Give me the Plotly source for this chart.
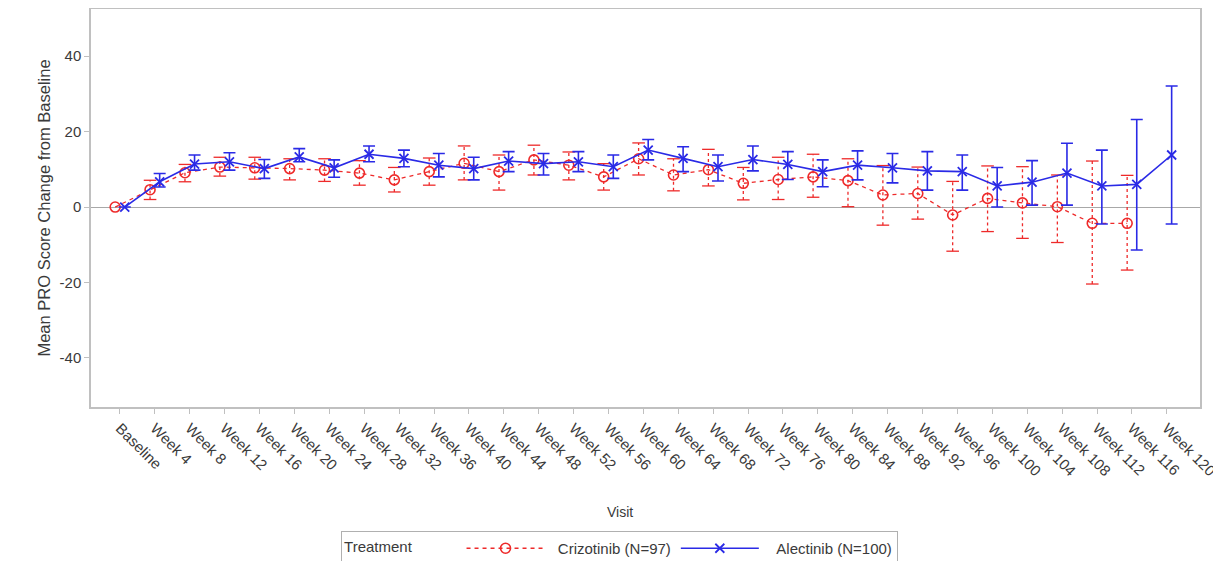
import plotly.graph_objects as go

visits = ["Baseline", "Week 4", "Week 8", "Week 12", "Week 16", "Week 20", "Week 24",
          "Week 28", "Week 32", "Week 36", "Week 40", "Week 44", "Week 48", "Week 52",
          "Week 56", "Week 60", "Week 64", "Week 68", "Week 72", "Week 76", "Week 80",
          "Week 84", "Week 88", "Week 92", "Week 96", "Week 100", "Week 104", "Week 108",
          "Week 112", "Week 116", "Week 120"]

y_ticks = [-40, -20, 0, 20, 40]
y_ticklabels = ["-40", "-20", "0", "20", "40"]

crz_mean = [0.0, 4.6, 9.1, 10.6, 10.4, 10.2, 9.8, 9.0, 7.2, 9.4, 11.6, 9.4, 12.5, 11.1,
            8.0, 12.8, 8.5, 9.9, 6.3, 7.3, 8.0, 7.0, 3.2, 3.6, -2.1, 2.3, 1.1, 0.1,
            -4.3, -4.3, None]
crz_lo = [None, 2.0, 6.7, 8.2, 7.4, 7.2, 6.8, 5.8, 4.0, 5.8, 7.2, 4.5, 8.5, 7.2,
          4.5, 8.5, 4.3, 5.6, 1.9, 2.0, 2.6, 0.1, -4.8, -3.2, -11.7, -6.5, -8.3, -9.4,
          -20.4, -16.7, None]
crz_hi = [None, 7.1, 11.3, 13.2, 13.2, 12.8, 12.8, 12.3, 10.5, 13.0, 16.2, 13.8, 16.4, 14.6,
          11.5, 17.0, 12.8, 15.3, 10.5, 13.2, 14.0, 12.8, 11.0, 10.6, 6.8, 10.9, 10.7, 8.5,
          12.2, 8.4, None]

aln_mean = [0.0, 6.7, 11.4, 12.0, 10.2, 13.3, 10.4, 14.0, 12.9, 11.1, 10.2, 12.2, 11.5, 12.0,
            10.7, 15.1, 12.9, 10.7, 12.6, 11.3, 9.4, 11.1, 10.4, 9.6, 9.4, 5.6, 6.6, 9.0,
            5.6, 6.0, 13.8]
aln_lo = [0.0, 5.3, 9.8, 9.8, 7.6, 12.0, 7.9, 12.0, 10.7, 8.0, 7.2, 9.4, 8.5, 9.4,
          7.6, 12.5, 9.4, 6.9, 9.6, 7.3, 5.4, 7.2, 6.4, 4.5, 4.5, 0.0, 0.5, 0.5,
          -4.5, -11.4, -4.5]
aln_hi = [0.0, 8.9, 13.8, 14.4, 12.6, 15.5, 12.5, 16.2, 15.1, 14.2, 13.2, 14.7, 14.2, 14.7,
          13.8, 17.9, 16.0, 13.8, 16.2, 14.7, 12.5, 14.9, 14.2, 14.7, 13.8, 10.5, 12.3, 16.9,
          15.1, 23.2, 32.1]

RED = "#ee2a2a"
BLUE = "#2a2ae6"
TXT = "#3a3a3a"
FONT = "Liberation Sans, Arial, sans-serif"
NB = "\u00a0"

# The page body adds an 8px margin, so the figure is 8px smaller in each direction.
W, H = 1213, 553

fig = go.Figure()

# Crizotinib dashed error bars (built from lo/hi arrays)
ex, ey = [], []
for v, lo, hi in zip(visits, crz_lo, crz_hi):
    if lo is None or hi is None:
        continue
    ex += [v, v, None]
    ey += [lo, hi, None]
fig.add_trace(go.Scatter(
    x=ex, y=ey, mode="lines+markers", showlegend=False, hoverinfo="skip",
    offsetgroup="crz", alignmentgroup="a",
    line=dict(color=RED, width=1.3, dash="3px,3px"),
    marker=dict(symbol="line-ew", size=9, color=RED, line=dict(color=RED, width=1.3)),
))

fig.add_trace(go.Scatter(
    x=visits, y=crz_mean, mode="lines+markers", name=NB * 2 + "Crizotinib (N=97)",
    offsetgroup="crz", alignmentgroup="a",
    line=dict(color=RED, width=1.3, dash="4px,4px"),
    marker=dict(symbol="circle-open", size=10, color=RED, line=dict(color=RED, width=1.6)),
))

aln_plus = [h - m for h, m in zip(aln_hi, aln_mean)]
aln_minus = [m - l for m, l in zip(aln_mean, aln_lo)]
fig.add_trace(go.Scatter(
    x=visits, y=aln_mean, mode="lines+markers", name=NB * 3 + "Alectinib (N=100)",
    offsetgroup="aln", alignmentgroup="a",
    line=dict(color=BLUE, width=1.6),
    marker=dict(symbol="x-thin", size=9, color=BLUE, line=dict(color=BLUE, width=1.8)),
    error_y=dict(type="data", symmetric=False, array=aln_plus, arrayminus=aln_minus,
                 color=BLUE, thickness=1.6, width=6),
))

fig.update_layout(
    width=W, height=H,
    margin=dict(l=83, r=21, t=1, b=154),
    paper_bgcolor="white", plot_bgcolor="white",
    font=dict(family=FONT, size=15, color=TXT),
    scattermode="group", scattergap=0.45,
    showlegend=True,
    legend=dict(
        orientation="h", x=0.4766, xanchor="center",
        yref="container", y=(H - 523) / H, yanchor="top",
        bordercolor="#b0b0b0", borderwidth=1, bgcolor="white",
        title=dict(text="Treatment" + NB * 10, side="left", font=dict(size=15, color=TXT)),
        font=dict(size=15, color=TXT), itemwidth=78, tracegroupgap=0,
        valign="middle",
    ),
    annotations=[dict(text="Visit", x=0.477, xref="paper", y=-0.265, yref="paper",
                      showarrow=False, xanchor="center", yanchor="middle",
                      font=dict(size=14, color=TXT))],
)

fig.update_xaxes(
    type="category", categoryorder="array", categoryarray=visits,
    range=[-0.83, 30.95], tickangle=45, automargin=False,
    showline=True, linecolor="#c0c0c0", linewidth=1.5, mirror=True,
    ticks="outside", ticklen=5, tickcolor="#c0c0c0",
    showgrid=False, zeroline=False,
    tickfont=dict(size=15, color=TXT),
)
fig.update_yaxes(
    range=[-53, 52.5], tickvals=y_ticks, ticktext=y_ticklabels, automargin=False,
    showline=True, linecolor="#c0c0c0", linewidth=1.5, mirror=True,
    ticks="outside", ticklen=5, tickcolor="#c0c0c0",
    showgrid=False, zeroline=True, zerolinecolor="#a8a8a8", zerolinewidth=1.2,
    tickfont=dict(size=15, color=TXT),
    title=dict(text="Mean PRO Score Change from Baseline", standoff=5,
               font=dict(size=16.5, color=TXT)),
)

fig.write_html("out.html")
